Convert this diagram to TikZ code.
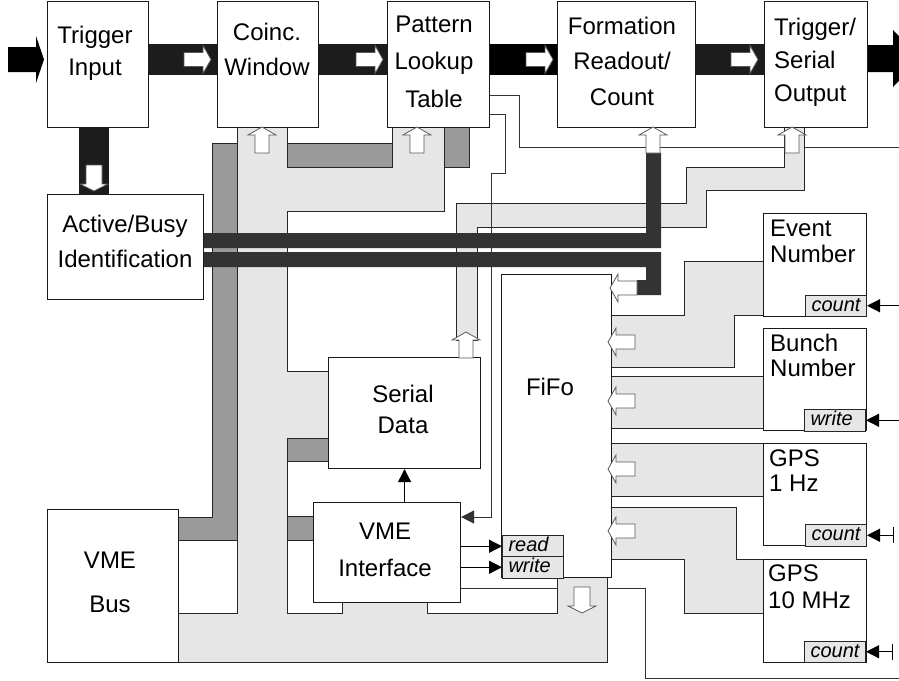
\documentclass[tikz,border=0pt]{standalone}
\usepackage{fontspec}
\setmainfont{Liberation Sans}
\usetikzlibrary{arrows.meta}
\definecolor{lg}{HTML}{E6E6E6}
\definecolor{mg}{HTML}{9A9A9A}
\definecolor{dk}{HTML}{333333}
\definecolor{bk}{HTML}{1C1C1C}
\pgfdeclarelayer{bgl}\pgfdeclarelayer{l1}\pgfdeclarelayer{l2}\pgfdeclarelayer{l3}\pgfdeclarelayer{front}
\pgfsetlayers{bgl,l1,l2,l3,main,front}
\newcommand{\btxt}[3]{\fontsize{24}{#1}\selectfont\begin{tabular}[t]{@{}#2@{}}#3\end{tabular}}
\tikzset{
  box/.style={draw=black!90, line width=1.1pt, fill=white, inner sep=0pt, anchor=north west},
  lbl/.style={inner sep=0pt, anchor=base},
  lbll/.style={inner sep=0pt, anchor=base west},
  tag/.style={draw=black!85, line width=1pt, fill=lg, anchor=north west, inner xsep=6pt, inner ysep=0pt, text width=49pt, minimum height=21.5pt, text height=15pt, text depth=4pt, font=\fontsize{20}{22}\selectfont\itshape, align=left},
  bus/.style={fill=lg, draw=black!85, line width=0.9pt},
  mbus/.style={fill=mg, draw=black!85, line width=0.9pt},
  ln/.style={draw=black!80, line width=1pt},
  harr/.style={fill=white, draw=black!65, line width=0.8pt, line join=miter},
  sarr/.style={draw=black, line width=1.2pt, -{Triangle[length=13pt,width=13pt]}},
  hR/.pic={\path[harr] (0,0) -- (-8,-14) -- (-8,-7) -- (-27,-7) -- (-27,7) -- (-8,7) -- (-8,14) -- cycle;},
  hL/.pic={\path[harr] (0,0) -- (8,-14) -- (8,-7) -- (27,-7) -- (27,7) -- (8,7) -- (8,14) -- cycle;},
  hU/.pic={\path[harr] (0,0) -- (-14,8) -- (-7,8) -- (-7,26) -- (7,26) -- (7,8) -- (14,8) -- cycle;},
  hD/.pic={\path[harr] (0,0) -- (-14,-7) -- (-8,-7) -- (-8,-26) -- (8,-26) -- (8,-7) -- (14,-7) -- cycle;},
}
\begin{document}
\begin{tikzpicture}[x=1pt,y=-1pt]
\useasboundingbox (0,0) rectangle (899,680);
\begin{pgfonlayer}{bgl}
\fill[white] (0,0) rectangle (899,680);
\end{pgfonlayer}

% ---------- boxes ----------
\node[box, minimum width=101pt, minimum height=126pt] (trig) at (47,1) {};
\node[box, minimum width=101pt, minimum height=126pt] (coinc) at (217,1) {};
\node[box, minimum width=102pt, minimum height=126pt] (pat) at (387,1) {};
\node[box, minimum width=138pt, minimum height=126pt] (form) at (557,1) {};
\node[box, minimum width=103pt, minimum height=126pt] (tso) at (764,1) {};
\node[box, minimum width=156pt, minimum height=105pt] (act) at (47,194) {};
\node[box, minimum width=152pt, minimum height=111pt] (ser) at (328,357) {};
\node[box, minimum width=110pt, minimum height=303pt] (fifo) at (501,274) {};
\node[box, minimum width=147pt, minimum height=100pt] (vmei) at (313,502) {};
\node[box, minimum width=131pt, minimum height=153pt] (vmeb) at (47,509) {};
\node[box, minimum width=103pt, minimum height=103pt] (ev) at (763,213) {};
\node[box, minimum width=103pt, minimum height=102pt] (bn) at (763,328) {};
\node[box, minimum width=103pt, minimum height=102pt] (g1) at (763,443) {};
\node[box, minimum width=103pt, minimum height=103pt] (g10) at (763,559) {};

% ---------- texts ----------
\node[lbl] (tTrig) at (95,43) {\btxt{32}{c}{Trigger\\Input}};
\node[lbl] (tCoinc) at (267,40) {\btxt{35}{c}{Coinc.\\Window}};
\node[lbl] (tPat) at (434,32) {\btxt{37.5}{c}{Pattern\\Lookup\\Table}};
\node[lbl] (tForm) at (622,34) {\btxt{35.5}{c}{Formation\\Readout/\\Count}};
\node[lbll] (tTso) at (774,35) {\btxt{33}{l}{Trigger/\\Serial\\Output}};
\node[lbl] (tAct) at (125,232) {\btxt{35}{c}{Active/Busy\\Identification}};
\node[lbl] (tSer) at (403,402) {\btxt{31}{c}{Serial\\Data}};
\node[lbl] (tFifo) at (550,395) {\btxt{30}{c}{FiFo}};
\node[lbl] (tVmei) at (385,539) {\btxt{37}{c}{VME\\Interface}};
\node[lbl] (tVmeb) at (110,568) {\btxt{44}{c}{VME\\Bus}};
\node[lbll] (tEv) at (770,236) {\btxt{26}{l}{Event\\Number}};
\node[lbll] (tBn) at (770,351) {\btxt{25}{l}{Bunch\\Number}};
\node[lbll] (tG1) at (769,466) {\btxt{25}{l}{GPS\\1 Hz}};
\node[lbll] (tG10) at (768,581) {\btxt{27}{l}{GPS\\10 MHz}};

% ---------- layer 1: thin lines behind, mid-gray bus ----------
\begin{pgfonlayer}{l1}
\draw[ln] (pat.north east) ++(0,94) -| (519,147) -- (899,147);
\draw[ln] (vmei.north east) ++(0,86) -| (645,678) -- (899,678);
\draw[mbus] (237,438) rectangle (328,461);
\draw[mbus] (237,516) rectangle (313,540);
\draw[mbus] (178,517) -- (212,517) -- (212,143) -- (444,143) -- (444,127) -- (469,127) -- (469,167) -- (237,167) -- (237,540) -- (178,540) -- cycle;
\end{pgfonlayer}

% ---------- layer 2: light-gray buses ----------
\begin{pgfonlayer}{l2}
\draw[bus] (237,127) -- (237,613) -- (178,613) -- (178,662) -- (607,662) -- (607,577) -- (557,577) -- (557,613) -- (427,613) -- (427,602) -- (342,602) -- (342,613) -- (287,613) -- (287,438) -- (328,438) -- (328,371) -- (287,371) -- (287,211) -- (444,211) -- (444,127) -- (392,127) -- (392,167) -- (287,167) -- (287,127) -- cycle;
\draw[bus] (456,340) -- (456,203) -- (686,203) -- (686,167) -- (784,167) -- (784,127) -- (804,127) -- (804,190) -- (706,190) -- (706,227) -- (477,227) -- (477,340) -- cycle;
\draw[bus] (763,261) -- (684,261) -- (684,315) -- (611,315) -- (611,367) -- (734,367) -- (734,315) -- (763,315) -- cycle;
\draw[bus] (611,376) rectangle (763,428);
\draw[bus] (611,443) rectangle (763,496);
\draw[bus] (611,507) -- (736,507) -- (736,559) -- (763,559) -- (763,613) -- (684,613) -- (684,559) -- (611,559) -- cycle;
\end{pgfonlayer}

% ---------- layer 3: line, dark bars, black bars ----------
\begin{pgfonlayer}{l3}
\draw[ln, -{Triangle[length=13pt,width=13pt]}] (pat.north east) ++(0,113) -- (505,114) -- (505,173) -- (491,173) |- ([yshift=-15pt]vmei.north east);
\fill[dk] (203,233) -- (646,233) -- (646,153) -- (661,153) -- (661,248) -- (203,248) -- cycle;
\fill[dk] (203,252) -- (661,252) -- (661,295) -- (637,295) -- (637,280) -- (646,280) -- (646,267) -- (203,267) -- cycle;
\fill[bk] (148,44) rectangle (217,75);
\fill[bk] (318,44) rectangle (387,75);
\fill[black] (489,44) rectangle (557,75);
\fill[bk] (695,44) rectangle (764,75);
\fill[bk] (79,127) rectangle (109,194);
\fill[black] (8,47) -- (36,47) -- (36,36) -- (44,59.5) -- (36,83) -- (36,72) -- (8,72) -- cycle;
\begin{scope}
\clip (0,0) rectangle (899,680);
\fill[black] (867,45) -- (893,45) -- (893,30) -- (921,58.5) -- (893,87) -- (893,72) -- (867,72) -- cycle;
\end{scope}
\end{pgfonlayer}

% ---------- front: hollow arrows, tags, small arrows ----------
\begin{pgfonlayer}{front}
\pic at (211,59.5) {hR};
\pic at (383,59.5) {hR};
\pic at (553,59.5) {hR};
\pic at (758,59.5) {hR};
\pic at (94,191) {hD};
\pic at (262,127) {hU};
\pic at (417,127) {hU};
\pic at (653,127) {hU};
\pic at (792,127) {hU};
\pic at (466,332) {hU};
\pic at (582,613) {hD};
\pic at (610,288) {hL};
\pic at (608,342) {hL};
\pic at (608,401) {hL};
\pic at (608,469) {hL};
\pic at (608,531) {hL};

\node[tag] (tcE) at (805,294.5) {count};
\node[tag] (twB) at (804,409) {write};
\node[tag] (tcG1) at (805,524) {count};
\node[tag] (tcG10) at (804,640.5) {count};
\node[tag] (trd) at (502,535) {read};
\node[tag] (twr) at (502,556) {write};

\draw[sarr] (tcE.east) ++(33,0) -- (tcE.east);
\draw[sarr] (twB.east) ++(33,0) -- (twB.east);
\draw[sarr, {Bar[width=16pt]}-{Triangle[length=13pt,width=13pt]}] (tcG1.east) ++(27,0) -- (tcG1.east);
\draw[sarr, {Bar[width=16pt]}-{Triangle[length=13pt,width=13pt]}] (tcG10.east) ++(27,0) -- (tcG10.east);
\draw[sarr] (vmei.north -| ser.south) -- (ser.south);
\draw[sarr] (vmei.east |- trd.west) -- (trd.west);
\draw[sarr] (vmei.east |- twr.west) -- (twr.west);
\end{pgfonlayer}
\end{tikzpicture}
\end{document}
